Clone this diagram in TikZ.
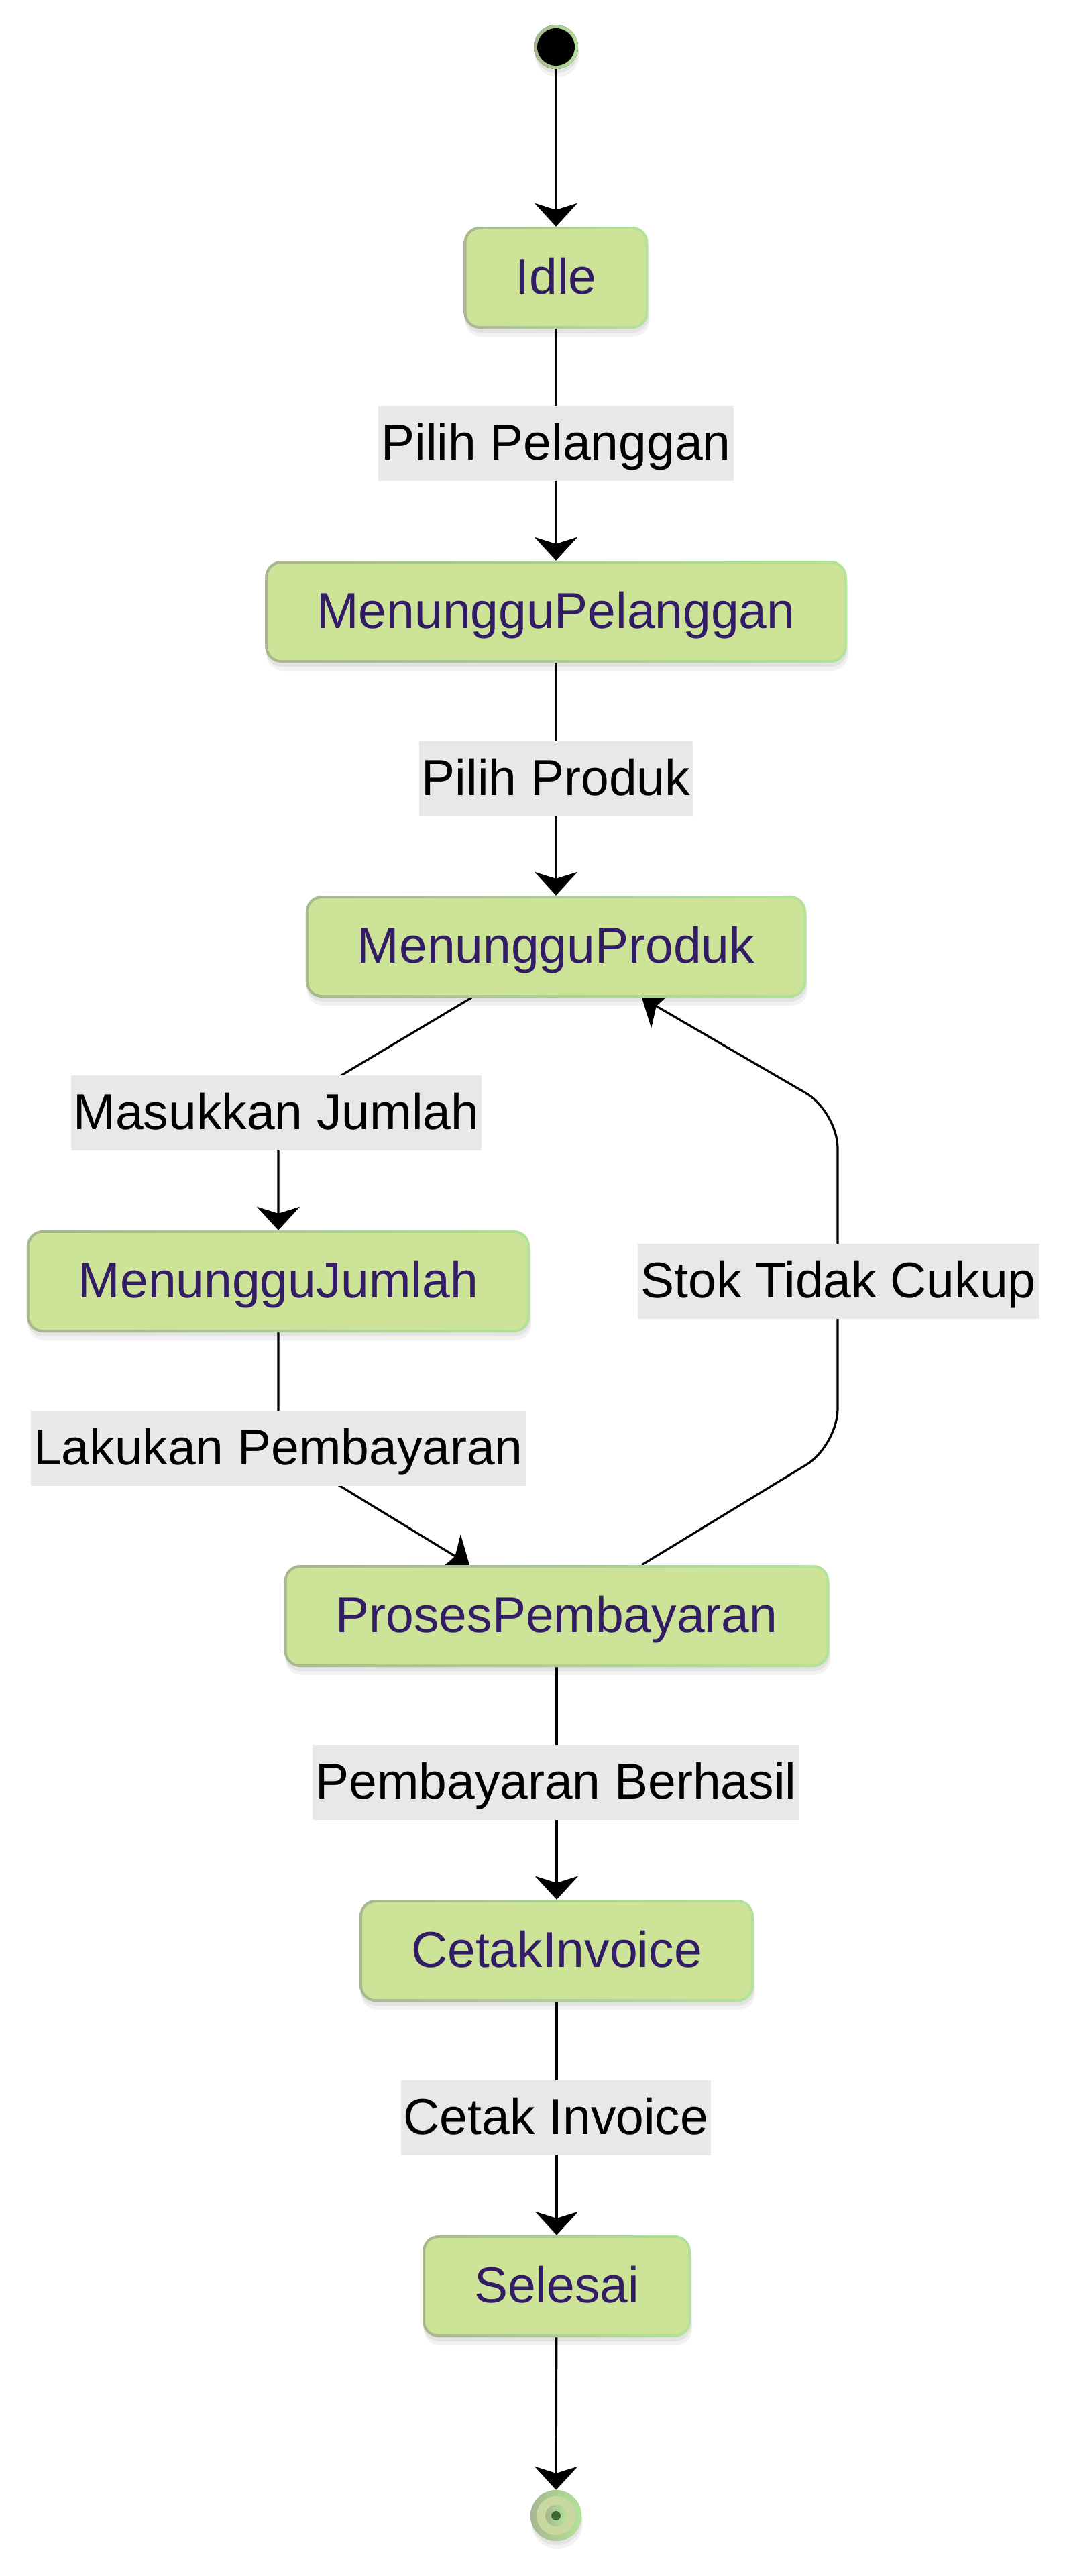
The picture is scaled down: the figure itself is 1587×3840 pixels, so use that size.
\documentclass[tikz,border=0pt]{standalone}
\usepackage{fontspec}
\setmainfont{Liberation Sans}
\usetikzlibrary{arrows.meta,shadows,calc}
\pgfdeclarelayer{bg}
\pgfsetlayers{bg,main}
\definecolor{nfill}{HTML}{CDE498}
\definecolor{bordL}{HTML}{A8B692}
\definecolor{bordR}{HTML}{B2E398}
\definecolor{ntext}{HTML}{331C66}
\definecolor{lblfill}{HTML}{E8E8E8}
\definecolor{enddot}{HTML}{3A6A34}
\definecolor{endband}{HTML}{C8D8A0}
\tikzset{
  softshadow/.style={
    drop shadow={shadow xshift=2pt, shadow yshift=-12pt, opacity=0.05, fill=black},
    drop shadow={shadow xshift=1pt, shadow yshift=-6pt, opacity=0.06, fill=black}},
  statebox/.style={rectangle, rounded corners=24pt, fill=nfill, draw=none, text=ntext,
    font=\fontsize{75}{90}\selectfont, text height=56pt, text depth=8pt,
    inner xsep=77pt, inner ysep=0pt, minimum height=152pt, softshadow,
    path picture={
      \shade[left color=bordL, right color=bordR]
        (path picture bounding box.south west) rectangle (path picture bounding box.north east);
      \fill[nfill, rounded corners=20pt]
        ([shift={(4pt,4pt)}]path picture bounding box.south west) rectangle
        ([shift={(-4pt,-4pt)}]path picture bounding box.north east);}},
  startdot/.style={circle, minimum size=66pt, inner sep=0pt, fill=black, draw=none, softshadow,
    path picture={
      \shade[left color=bordL, right color=bordR]
        (path picture bounding box.south west) rectangle (path picture bounding box.north east);
      \fill[black] (path picture bounding box.center) circle[radius=28pt];}},
  enddotstyle/.style={circle, minimum size=76pt, inner sep=0pt, fill=bordL, draw=none, softshadow,
    path picture={
      \shade[left color=bordL, right color=bordR]
        (path picture bounding box.south west) rectangle (path picture bounding box.north east);
      \fill[endband] (path picture bounding box.center) circle[radius=29pt];
      \shade[left color=bordL, right color=bordR]
        (path picture bounding box.center) circle[radius=16pt];
      \fill[enddot] (path picture bounding box.center) circle[radius=7pt];}},
  lbl/.style={rectangle, fill=lblfill, draw=none, text=black,
    font=\fontsize{75}{90}\selectfont, text height=56pt, text depth=8pt,
    inner xsep=4pt, inner ysep=0pt, minimum height=112pt},
  edge/.style={line width=3.2pt, draw=black, -{Stealth[length=35pt,width=64pt,inset=10pt]}},
}
\begin{document}
\begin{tikzpicture}[x=1pt, y=-1pt]
\begin{pgfonlayer}{bg}
\fill[white] (0,0) rectangle (1587,3840);
\end{pgfonlayer}
\useasboundingbox (0,0) rectangle (1587,3840);

% states
\node[startdot] (start) at (829,70) {};
\node[statebox] (idle) at (829,414) {Idle};
\node[statebox] (mpel) at (829,912) {MenungguPelanggan};
\node[statebox] (mprod) at (829,1411) {MenungguProduk};
\node[statebox] (mjum) at (415,1910) {MenungguJumlah};
\node[statebox] (pp) at (830,2409) {ProsesPembayaran};
\node[statebox] (ci) at (830,2908) {CetakInvoice};
\node[statebox] (sel) at (830,3408) {Selesai};
\node[enddotstyle] (end) at (829,3750) {};

% labels
\node[lbl] (lpel) at (829,661) {Pilih Pelanggan};
\node[lbl] (lprod) at (829,1161) {Pilih Produk};
\node[lbl] (lmj) at (412,1659) {Masukkan Jumlah};
\node[lbl] (llp) at (415,2159) {Lakukan Pembayaran};
\node[lbl] (lstok) at (1250,1910) {Stok Tidak Cukup};
\node[lbl] (lpb) at (829,2657) {Pembayaran Berhasil};
\node[lbl] (lci) at (829,3157) {Cetak Invoice};

\coordinate (sk1) at (1249,2155);
\coordinate (sk2) at (1249,1657);

% edges
\begin{pgfonlayer}{bg}
\draw[edge] (start) -- (idle);
\draw[edge] (idle) -- (mpel);
\draw[edge] (mpel) -- (mprod);
\draw[edge, rounded corners=40pt] ([xshift=-126pt]mprod.south) -- (mjum.north |- lmj.center) -- (mjum.north);
\draw[edge, rounded corners=40pt] (mjum.south) -- (mjum.south |- llp.center) -- ([xshift=-130pt]pp.north);
\draw[edge, rounded corners=55pt] ([xshift=127pt]pp.north) -- (sk1) -- (sk2) -- ([xshift=128pt]mprod.south);
\draw[edge] (pp) -- (ci);
\draw[edge] (ci) -- (sel);
\draw[edge] (sel) -- (end);
\end{pgfonlayer}
\end{tikzpicture}
\end{document}
